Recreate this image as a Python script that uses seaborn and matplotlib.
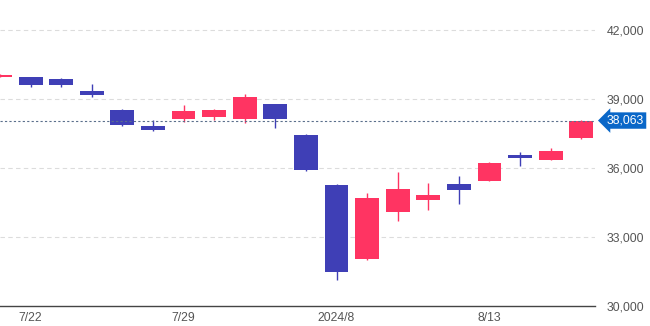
import matplotlib
matplotlib.use("Agg")
import matplotlib.pyplot as plt
import seaborn as sns
import numpy as np

dates = ["7/19", "7/22", "7/23", "7/24", "7/25", "7/26", "7/29", "7/30", "7/31", "8/1",
         "8/2", "8/5", "8/6", "8/7", "8/8", "8/9", "8/13", "8/14", "8/15", "8/16"]
opens = [39957, 39943, 39870, 39348, 38535, 37813, 38117, 38217, 38117, 38783,
         37448, 35261, 32030, 34087, 34609, 35291, 35450, 36565, 36348, 37291]
highs = [40090, 39960, 39926, 39652, 38565, 38087, 38726, 38560, 39204, 38790,
         37460, 35291, 34900, 35839, 35361, 35652, 36240, 36683, 36857, 38100]
lows = [39950, 39509, 39509, 39100, 37826, 37609, 38013, 38087, 37957, 37726,
        35880, 31130, 32000, 33709, 34174, 34422, 35440, 36087, 36340, 37280]
closes = [40063, 39599, 39594, 39155, 37870, 37667, 38469, 38526, 39102, 38126,
          35910, 31458, 34675, 35090, 34831, 35025, 36233, 36442, 36727, 38063]
tick_idx = [1, 6, 11, 16]
tick_labels = ["7/22", "7/29", "2024/8", "8/13"]
y_ticks = [30000, 33000, 36000, 39000, 42000]
last_price = 38063

UP = "#ff3462"
DOWN = "#3f3fb6"

sns.set_theme(style="white")
plt.rcParams["font.family"] = ["Liberation Sans", "DejaVu Sans"]

fig = plt.figure(figsize=(6.5, 3.26), dpi=100)
ax = fig.add_axes([0.0, 1 - 306 / 326, 595 / 650, 306 / 326])

x = np.arange(len(dates))
o = np.array(opens); c = np.array(closes); h = np.array(highs); l = np.array(lows)
colors = [UP if cc >= oo else DOWN for oo, cc in zip(o, c)]

for yt in y_ticks[1:]:
    ax.axhline(yt, color="#dcdcdc", lw=0.8, ls=(0, (4, 3)), zorder=0)

ax.vlines(x, l, h, colors=colors, lw=1.0, zorder=2)
bottoms = np.minimum(o, c)
heights = np.maximum(np.abs(c - o), 60)
ax.bar(x, heights, bottom=bottoms, width=0.78, color=colors, edgecolor="none", zorder=3)

ax.axhline(last_price, color="#5b6f8c", lw=0.8, ls=(0, (2, 2)), zorder=4)

ax.set_xlim(0, 19.45)
ax.set_ylim(30000, 42000 + 30 / 0.023)

ax.set_xticks(tick_idx)
ax.set_xticklabels(tick_labels)
ax.set_yticks(y_ticks)
ax.set_yticklabels([f"{v:,}" for v in y_ticks])
ax.yaxis.tick_right()
ax.tick_params(axis="y", length=0, pad=8.5, labelsize=8.8, colors="#555555")
ax.tick_params(axis="x", length=0, pad=4, labelsize=8.8, colors="#555555")

for s in ["top", "left", "right"]:
    ax.spines[s].set_visible(False)
ax.spines["bottom"].set_color("#444444")
ax.spines["bottom"].set_linewidth(1.0)

ax.annotate(f"{last_price:,}", xy=(1.0, last_price), xycoords=("axes fraction", "data"),
            xytext=(8.5, 0), textcoords="offset points", ha="left", va="center",
            fontsize=8.8, color="white",
            bbox=dict(boxstyle="larrow,pad=0.18", fc="#0a67c8", ec="none"),
            annotation_clip=False)

fig.savefig("out.png", dpi=100)
